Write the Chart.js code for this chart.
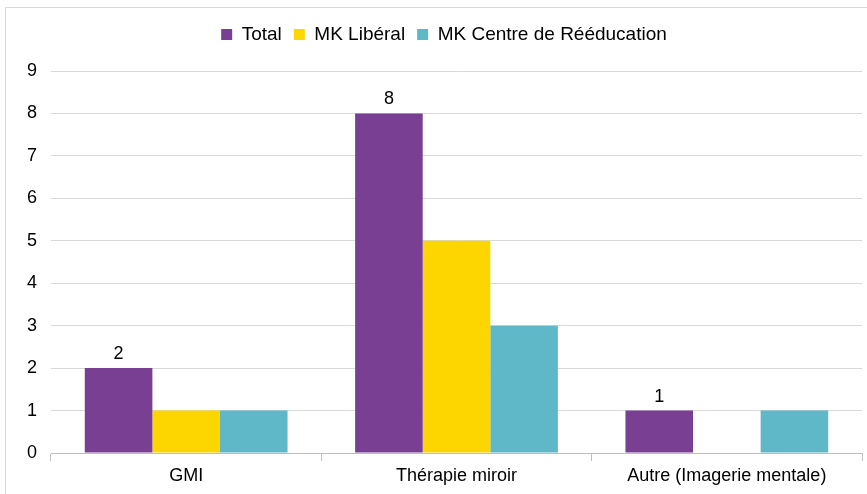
<!DOCTYPE html>
<html>
<head>
<meta charset="utf-8">
<script src="https://cdn.jsdelivr.net/npm/chart.js@4.4.1/dist/chart.umd.min.js"></script>
<style>
  html, body { margin: 0; padding: 0; background: #fff; }
  #cadre { position: absolute; left: 5px; top: 7px; width: 880px; height: 500px; border: 1px solid #d9d9d9; box-sizing: border-box; }
  #wrap { position: absolute; left: 0; top: 0; width: 867px; height: 494px; }
</style>
</head>
<body>
<div id="cadre"></div>
<div id="wrap"><canvas id="graph"></canvas></div>
<script>
/* données */
const categories = ['GMI', 'Thérapie miroir', 'Autre (Imagerie mentale)'];
const total = [2, 8, 1];
const mkLiberal = [1, 5, 0];
const mkCentre = [1, 3, 1];
const yTicks = [0, 1, 2, 3, 4, 5, 6, 7, 8, 9];

const POLICE = "'Liberation Sans', Arial, sans-serif";
Chart.defaults.font.family = POLICE;
Chart.defaults.font.size = 18;
Chart.defaults.color = '#000';

/* étiquettes au-dessus des barres "Total" */
const etiquettes = {
  id: 'etiquettes',
  afterDatasetsDraw(chart) {
    const ctx = chart.ctx;
    const meta = chart.getDatasetMeta(0);
    ctx.save();
    ctx.font = '18px ' + POLICE;
    ctx.fillStyle = '#000';
    ctx.textAlign = 'center';
    ctx.textBaseline = 'bottom';
    meta.data.forEach((bar, i) => {
      ctx.fillText(String(total[i]), bar.x, bar.y - 5);
    });
    ctx.restore();
  }
};

/* hauteur fixe de la légende pour placer la zone de tracé */
const hauteurLegende = {
  id: 'hauteurLegende',
  beforeInit(chart) {
    const leg = chart.legend;
    const fitOrig = leg.fit;
    leg.fit = function () {
      fitOrig.call(this);
      this.height = 58;
    };
  }
};

new Chart(document.getElementById('graph'), {
  type: 'bar',
  data: {
    labels: categories,
    datasets: [
      { label: 'Total', data: total, backgroundColor: '#783f93' },
      { label: 'MK Libéral', data: mkLiberal, backgroundColor: '#fdd600' },
      { label: 'MK Centre de Rééducation', data: mkCentre, backgroundColor: '#5eb8c7' }
    ]
  },
  options: {
    responsive: true,
    maintainAspectRatio: false,
    animation: false,
    datasets: { bar: { categoryPercentage: 0.75, barPercentage: 1.0 } },
    layout: { padding: { top: 13, right: 5, left: 26, bottom: 0 } },
    plugins: {
      tooltip: { enabled: false },
      legend: {
        position: 'top',
        labels: { boxWidth: 11, boxHeight: 11, padding: 12, font: { size: 19 } }
      }
    },
    scales: {
      x: {
        grid: { offset: true, drawOnChartArea: false, tickLength: 8, color: '#bfbfbf' },
        border: { color: '#bfbfbf' },
        ticks: { padding: 4 },
        afterFit(s) { s.height = 41; }
      },
      y: {
        min: 0,
        max: 9,
        afterBuildTicks(s) { s.ticks = yTicks.map(v => ({ value: v })); },
        grid: { color: '#d9d9d9', drawTicks: false },
        border: { display: false },
        ticks: { padding: 14 },
        afterFit(s) { s.width = 25; }
      }
    }
  },
  plugins: [etiquettes, hauteurLegende]
});
</script>
</body>
</html>
